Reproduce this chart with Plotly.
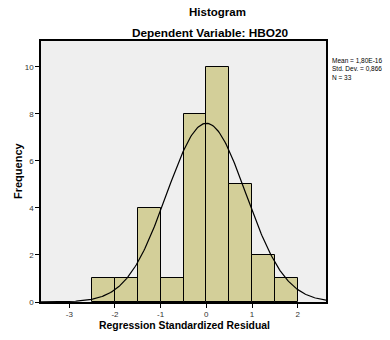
import numpy as np
import plotly.graph_objects as go

bin_left = [-2.5, -2.0, -1.5, -1.0, -0.5, 0.0, 0.5, 1.0, 1.5]
counts = [1, 1, 4, 1, 8, 10, 5, 2, 1]
bin_width = 0.5
mean_val = 1.80e-16
std_val = 0.866
n_val = 33
x_ticks = [-3, -2, -1, 0, 1, 2]
y_ticks = [0, 2, 4, 6, 8, 10]

centers = [b + bin_width / 2 for b in bin_left]
xs = np.linspace(-3.62, 2.62, 300)
ys = n_val * bin_width / (std_val * np.sqrt(2 * np.pi)) * np.exp(-0.5 * ((xs - mean_val) / std_val) ** 2)

FONT = "Liberation Sans, Arial, sans-serif"
L, R, T, B = 41, 64, 41, 38
W, H = 390, 340
pw = W - L - R
ph = H - T - B


def px(x):
    return (x - L) / pw


def py(y):
    return (H - B - y) / ph


fig = go.Figure()
fig.add_trace(go.Bar(x=centers, y=counts, width=bin_width,
                     marker=dict(color="#d3cf99", line=dict(color="black", width=1)),
                     hoverinfo="skip"))
fig.add_trace(go.Scatter(x=xs, y=ys, mode="lines", line=dict(color="black", width=1.2),
                         hoverinfo="skip"))

fig.update_layout(
    width=W, height=H,
    margin=dict(l=L, r=R, t=T, b=B, autoexpand=False),
    paper_bgcolor="white", plot_bgcolor="#efefef",
    showlegend=False, bargap=0,
    font=dict(family=FONT, color="#222", size=8),
    xaxis=dict(range=[-3.62, 2.62], tickvals=x_ticks, ticktext=[str(t) for t in x_ticks],
               ticks="outside", ticklen=4, tickcolor="black", showgrid=False, zeroline=False,
               showline=True, linecolor="black", linewidth=1.5, mirror=True, automargin=False,
               tickfont=dict(size=8, color="#333")),
    yaxis=dict(range=[0, 11.1], tickvals=y_ticks, ticks="outside", ticklen=4, tickcolor="black",
               showgrid=False, zeroline=False, automargin=False,
               showline=True, linecolor="black", linewidth=1.5, mirror=True,
               tickfont=dict(size=8, color="#333")),
    annotations=[
        dict(text="<b>Histogram</b>", x=px(217), y=py(12), xref="paper", yref="paper", showarrow=False,
             yanchor="middle", font=dict(size=11.5, color="black")),
        dict(text="<b>Dependent Variable: HBO20</b>", xref="paper", yref="paper", x=px(210), y=py(33),
             yanchor="middle", showarrow=False, font=dict(size=11.8, color="black")),
        dict(text="<b>Regression Standardized Residual</b>", xref="paper", yref="paper", x=px(184), y=py(326),
             yanchor="middle", showarrow=False, font=dict(size=10.4, color="black")),
        dict(text="<b>Frequency</b>", xref="paper", yref="paper", x=px(18), y=py(171), textangle=-90,
             xanchor="center", yanchor="middle", showarrow=False, font=dict(size=11, color="black")),
        dict(text="Mean = 1,80E-16<br>Std. Dev. = 0,866<br>N = 33", xref="paper", yref="paper",
             x=px(330), y=py(55), showarrow=False, align="left", xanchor="left", yanchor="top",
             font=dict(size=6.5, color="black")),
    ],
)

fig.write_html("out.html", config={"displayModeBar": False},
               post_script="document.body.style.margin='0';document.body.style.overflow='hidden';")
